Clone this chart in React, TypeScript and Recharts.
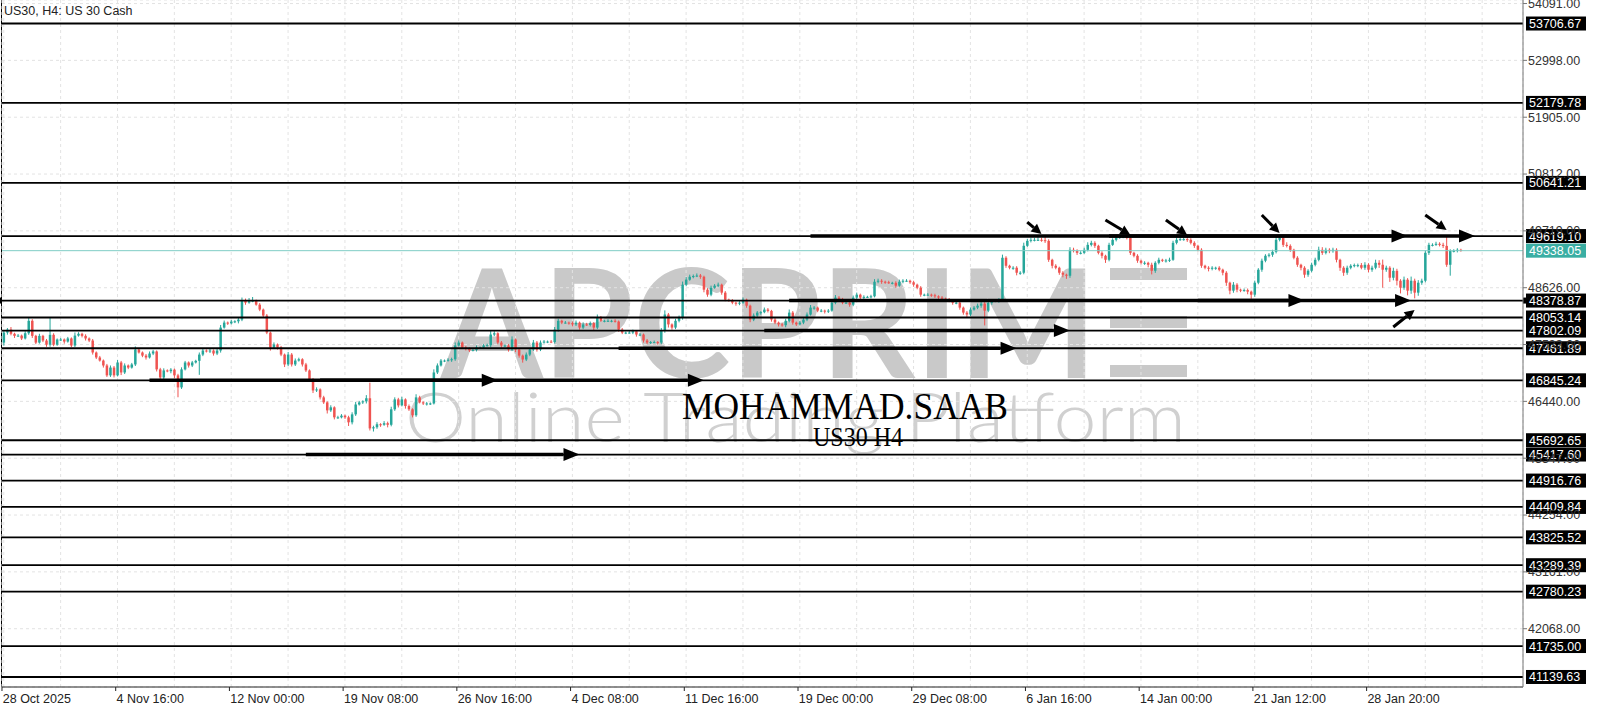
import React from 'react';
import { ComposedChart, Bar, XAxis, YAxis, CartesianGrid, ReferenceLine } from 'recharts';

// ---- data ----
const firstOpen = 47571;
const closes = [
  47763,47820,47740,47700,47705,47650,47750,47990,47700,47570,
  47700,47610,47530,47720,47530,47630,47630,47590,47650,47514,
  47705,47740,47700,47650,47610,47380,47284,47225,47130,46940,
  47090,46940,47188,46996,47130,47090,47150,47437,47380,47320,
  47284,47360,47400,47055,46900,47035,47020,47050,46940,46709,
  47055,47188,47130,47188,47220,47340,47418,47400,47418,47360,
  47418,47859,47955,47940,47975,47980,48013,48377,48338,48377,
  48377,48300,48205,48090,47763,47476,47534,47476,47340,47150,
  47340,47150,47225,47250,47150,47035,46860,46650,46670,46517,
  46421,46267,46325,46133,46133,46165,46133,46037,46190,46380,
  46420,46440,46500,45920,45942,46000,45990,46020,45990,46287,
  46478,46363,46478,46350,46287,46172,46517,46421,46400,46400,
  46400,46996,47130,47225,47225,47240,47250,47514,47571,47476,
  47460,47420,47430,47476,47476,47514,47520,47725,47750,47571,
  47514,47514,47437,47630,47437,47320,47245,47340,47437,47571,
  47437,47571,47590,47590,47580,47820,47990,47955,47955,47945,
  47920,47955,47859,47920,47910,47945,47859,48051,47990,47990,
  47990,47990,47975,47820,47763,47763,47763,47790,47725,47725,
  47610,47571,47580,47580,47571,47800,48110,47920,47859,47990,
  48051,48684,48780,48837,48850,48860,48837,48588,48492,48626,
  48665,48684,48531,48396,48377,48338,48320,48338,48396,48280,
  48013,48090,48147,48155,48205,48180,48013,47955,47920,47905,
  47990,48147,47955,47920,47955,48013,48110,48243,48243,48185,
  48185,48170,48185,48338,48435,48410,48338,48338,48300,48435,
  48492,48435,48450,48450,48460,48741,48760,48741,48730,48720,
  48720,48665,48741,48760,48760,48730,48684,48626,48492,48492,
  48492,48480,48460,48435,48415,48396,48377,48338,48338,48243,
  48147,48110,48205,48243,48280,48320,48185,48338,48377,48377,
  48396,49202,49048,49010,49010,48914,48914,49432,49527,49547,
  49547,49547,49540,49527,49163,49048,49010,48914,48876,48856,
  49355,49335,49297,49297,49355,49450,49489,49432,49297,49240,
  49163,49450,49547,49585,49600,49600,49585,49297,49240,49145,
  49105,49105,49067,48952,49105,49163,49150,49150,49163,49489,
  49547,49560,49560,49547,49489,49432,49355,49048,49010,48990,
  49010,49010,48972,48914,48722,48569,48684,48588,48580,48580,
  48550,48492,48722,48972,49145,49240,49260,49316,49547,49585,
  49450,49430,49355,49202,49067,49010,48876,48952,49067,49163,
  49355,49297,49355,49330,49355,49163,49010,48914,49010,49048,
  49060,49060,49010,49067,48972,49010,49105,49067,48972,49010,
  48818,48950,48760,48626,48780,48569,48760,48531,48722,48760,
  49297,49450,49450,49470,49450,49430,49067,49335,49335,49355,
  49338,
];
const wickHi = [
  40,30,50,20,30,20,40,60,30,20,
  40,20,30,330,30,20,30,20,30,20,
  60,30,20,30,20,30,20,30,20,30,
  40,30,50,30,40,20,30,60,30,20,
  30,40,30,20,30,40,20,30,20,30,
  40,30,20,30,20,40,30,20,30,20,
  30,50,40,20,30,20,30,60,40,50,
  70,20,30,20,30,20,40,20,30,20,
  50,30,40,30,20,30,20,30,40,20,
  30,20,40,20,30,30,20,30,40,50,
  30,20,60,300,30,40,20,40,30,50,
  40,30,50,20,30,20,60,30,20,30,
  20,60,40,30,20,30,30,60,40,20,
  30,20,30,40,20,30,30,70,40,20,
  30,20,30,60,20,30,20,40,30,50,
  30,40,30,20,30,50,40,20,30,20,
  30,40,20,40,30,30,20,60,30,20,
  30,20,30,20,30,20,40,30,20,30,
  20,30,20,30,20,50,80,30,20,40,
  40,60,50,40,30,40,30,20,30,40,
  30,40,20,30,20,30,20,30,40,20,
  20,40,30,20,40,30,20,30,20,30,
  40,60,30,20,30,40,40,50,30,20,
  30,20,30,40,50,30,20,30,20,40,
  40,20,30,20,30,50,40,30,20,30,
  20,30,40,30,30,20,30,20,30,20,
  30,20,30,20,30,20,30,20,30,20,
  20,30,40,30,40,50,30,40,30,30,
  30,60,30,20,30,30,30,60,40,40,
  40,50,40,75,30,20,30,20,30,20,
  50,40,30,30,40,50,40,30,20,30,
  20,40,30,30,20,20,15,30,20,30,
  20,30,20,40,30,40,20,30,40,40,
  40,40,40,50,30,30,20,30,20,30,
  30,20,30,20,30,20,50,30,20,30,
  30,20,40,30,40,30,30,40,60,30,
  40,50,30,20,30,20,30,30,40,40,
  60,50,40,30,40,30,20,30,40,30,
  30,30,40,50,30,40,60,50,100,40,
  30,60,40,30,60,30,80,40,50,40,
  50,40,30,40,30,40,190,30,30,30,
  20,
];
const wickLo = [
  60,40,30,40,20,30,20,30,40,30,
  20,30,40,40,30,20,30,40,20,30,
  30,20,30,40,30,40,30,20,40,30,
  30,40,20,50,30,30,20,30,20,30,
  40,20,30,40,60,30,20,40,50,190,
  30,20,40,30,20,270,30,20,30,40,
  30,40,20,30,20,30,40,30,40,20,
  30,20,30,40,30,60,30,40,30,50,
  30,40,30,20,40,30,40,50,30,40,
  30,60,30,40,30,20,30,70,40,30,
  20,30,40,40,60,30,40,20,50,30,
  30,40,20,50,30,40,30,20,30,40,
  30,20,30,20,30,20,40,30,20,30,
  40,30,20,30,20,30,20,40,30,30,
  40,30,40,30,50,40,60,30,30,30,
  40,30,20,30,20,30,40,30,20,30,
  40,30,40,30,20,30,50,30,20,30,
  20,30,20,40,30,30,20,30,40,30,
  40,30,30,20,40,30,40,60,40,30,
  30,40,30,20,30,20,40,50,40,30,
  20,30,40,30,20,30,40,30,20,40,
  50,30,30,40,20,30,40,30,40,30,
  40,30,40,30,20,30,30,20,40,30,
  30,40,30,20,30,40,30,20,40,30,
  30,40,30,20,30,20,30,40,30,20,
  30,40,20,30,20,30,40,30,40,30,
  20,30,30,40,20,30,30,40,30,40,
  40,60,30,20,30,40,285,30,40,30,
  40,30,40,30,40,50,40,30,20,30,
  30,20,30,40,40,50,30,40,50,60,
  40,30,40,30,20,30,30,40,30,50,
  60,30,20,30,20,20,30,40,30,40,
  30,40,50,70,40,30,30,40,30,20,
  30,20,30,40,30,40,30,40,30,50,
  30,40,30,50,60,70,40,50,40,30,
  50,80,40,30,40,30,30,40,30,30,
  40,30,40,30,40,50,60,40,30,30,
  30,40,30,40,30,50,60,60,40,30,
  30,40,30,40,50,40,30,60,346,40,
  80,50,90,110,40,90,60,110,60,40,
  30,40,30,20,30,40,40,210,30,30,
  20,
];
const SLOTS = 428;
const BARS_PER_LABEL = 32;
const dateLabels = [
  '28 Oct 2025', '4 Nov 16:00', '12 Nov 00:00', '19 Nov 08:00', '26 Nov 16:00',
  '4 Dec 08:00', '11 Dec 16:00', '19 Dec 00:00', '29 Dec 08:00', '6 Jan 16:00',
  '14 Jan 00:00', '21 Jan 12:00', '28 Jan 20:00',
];
const priceTicks = [54091, 52998, 51905, 50812, 49719, 48626, 47533, 46440, 45347, 44254, 43161, 42068];
const levels = [
  53706.67, 52179.78, 50641.21, 49619.10, 48053.14, 47802.09, 47461.89, 46845.24,
  45692.65, 45417.60, 44916.76, 44409.84, 43825.52, 43289.39, 42780.23, 41735.00, 41139.63,
];
const markedLevel = 48378.87;
const lastPrice = 49338.05;
// [price, fromBar, toBar]
const hArrows: [number, number, number][] = [
  [46845.24, 41, 139], [46845.24, 89, 197], [45417.60, 85, 162], [47461.89, 173, 285],
  [47802.09, 214, 300], [48378.87, 221, 366], [48378.87, 336, 396],
  [49619.10, 227, 395], [49619.10, 311, 414],
];
// [fromBar, fromPrice, toBar, toPrice]
const dArrows: [number, number, number, number][] = [
  [288, 49889, 292, 49659], [310, 49928, 317, 49640], [327, 49928, 333, 49640],
  [354, 50024, 359, 49678], [400, 50024, 406, 49735], [391, 47870, 397, 48197],
];
const yDomain: [number, number] = [40947, 54159];

const data = Array.from({ length: SLOTS }, (_, i) => {
  if (i >= closes.length) return { i, range: null as any };
  const open = i === 0 ? firstOpen : closes[i - 1];
  const close = closes[i];
  const high = Math.max(open, close) + wickHi[i];
  const low = Math.min(open, close) - wickLo[i];
  return { i, open, close, high, low, range: [low, high] };
});
const gridTicks = Array.from({ length: Math.floor(SLOTS / 16) + 1 }, (_, k) => k * 16).filter((v) => v < SLOTS);

const FONT = '"Liberation Sans", Arial, sans-serif';
const UP = '#26a69a';
const DOWN = '#ef5350';

const Candle = (props: any) => {
  const { x, y, width, height, payload } = props;
  if (!payload || payload.open == null || !isFinite(y) || !isFinite(height)) return <g />;
  const { open, close, high, low } = payload;
  const span = high - low || 1;
  const py = (v: number) => y + ((high - v) / span) * height;
  const cx = x + width / 2;
  const color = close >= open ? UP : DOWN;
  const top = py(Math.max(open, close));
  const bot = py(Math.min(open, close));
  const bw = 2.5;
  return (
    <g>
      <line x1={cx} x2={cx} y1={y} y2={y + height} stroke={color} strokeWidth={1} />
      <rect x={cx - bw / 2} y={top} width={bw} height={Math.max(1, bot - top)} fill={color} />
    </g>
  );
};

const priceTag = (text: string, bg: string) => (lp: any) => {
  const vb = lp.viewBox || {};
  const x = (vb.x || 0) + (vb.width || 0) + 3;
  const y = vb.y || 0;
  return (
    <g>
      <rect x={x} y={y - 7} width={60} height={14} fill={bg} />
      <text x={x + 3} y={y + 4.5} fill="#fff" fontSize={12.5} fontFamily={FONT}>{text}</text>
    </g>
  );
};

const arrowShape = (w: number, head: number, hw: number) => (p: any) => {
  const x1 = Number(p.x1), y1 = Number(p.y1), x2 = Number(p.x2), y2 = Number(p.y2);
  const dx = x2 - x1, dy = y2 - y1;
  const L = Math.hypot(dx, dy) || 1;
  const ux = dx / L, uy = dy / L;
  const bx = x2 - ux * head, by = y2 - uy * head;
  const nx = -uy, ny = ux;
  return (
    <g>
      <line x1={x1} y1={y1} x2={bx} y2={by} stroke="#000" strokeWidth={w} />
      <polygon points={`${x2},${y2} ${bx + nx * hw},${by + ny * hw} ${bx - nx * hw},${by - ny * hw}`} fill="#000" />
    </g>
  );
};

const markedShape = (p: any) => {
  const x1 = Number(p.x1), y1 = Number(p.y1), x2 = Number(p.x2), y2 = Number(p.y2);
  return (
    <g>
      <line x1={x1} y1={y1} x2={x2} y2={y2} stroke="#000" strokeWidth={1.8} />
      <rect x={x1} y={y1 - 3} width={6} height={6} fill="#000" />
      <rect x={x2 - 6} y={y2 - 3} width={6} height={6} fill="#000" />
    </g>
  );
};

const DateTick = (p: any) => {
  const { x, y, payload } = p;
  const v = Number(payload && payload.value);
  if (v % BARS_PER_LABEL !== 0) return <g />;
  const k = v / BARS_PER_LABEL;
  if (k >= dateLabels.length) return <g />;
  return (
    <g>
      <line x1={x - 1.8} x2={x - 1.8} y1={y} y2={y + 4} stroke="#222" strokeWidth={1} />
      <text x={x - 1} y={y + 16} fontSize={12.5} fill="#222" fontFamily={FONT}>{dateLabels[k]}</text>
    </g>
  );
};

export default function App() {
  return (
    <div style={{ position: 'relative', width: 1600, height: 711, background: '#fff', overflow: 'hidden' }}>
      <style>{'body{margin:0;}'}</style>
      <svg width={1600} height={711} style={{ position: 'absolute', left: 0, top: 0 }}>
        <text x={441} y={378} fontSize={152} fontWeight={700} fontFamily="Lato, 'Open Sans', sans-serif" fill="#c9c9c9" textLength={656} lengthAdjust="spacingAndGlyphs">APCPRIM</text>
        <rect x={1110} y={268} width={77} height={12} fill="#c9c9c9" />
        <rect x={1110} y={316} width={77} height={12} fill="#c9c9c9" />
        <rect x={1110} y={365} width={77} height={12} fill="#c9c9c9" />
        <text x={405} y={442} fontSize={68} fontWeight={300} fontFamily="Lato, 'Open Sans', sans-serif" fill="#d0d0d0" textLength={781} lengthAdjust="spacingAndGlyphs">Online Trading Platform</text>
      </svg>
      <div style={{ position: 'absolute', left: 1, top: 0, width: 1, height: 687, background: '#000' }} />
      <div style={{ position: 'absolute', left: 0, top: 0 }}>
        <ComposedChart width={1600} height={711} data={data} margin={{ top: 0, right: 0, bottom: 0, left: 2 }} barCategoryGap="10%">
          <CartesianGrid yAxisId="p" stroke="#e3e3e3" strokeDasharray="3 3" />
          <XAxis dataKey="i" type="category" ticks={gridTicks} interval={0} tick={<DateTick />} tickLine={false} tickSize={0} tickMargin={0} height={24} axisLine={{ stroke: '#222' }} />
          <YAxis yAxisId="p" orientation="right" width={77} domain={yDomain} allowDataOverflow ticks={priceTicks} interval={0}
            tickFormatter={(v: number) => v.toFixed(2)} tickSize={4} tickMargin={1}
            tick={{ fill: '#333', fontSize: 12.5, fontFamily: FONT }} axisLine={{ stroke: '#777' }} tickLine={{ stroke: '#777' }} />
          <Bar yAxisId="p" dataKey="range" isAnimationActive={false} shape={Candle} />
          <ReferenceLine yAxisId="p" y={lastPrice} stroke="#7fcdc6" strokeWidth={1} label={priceTag(lastPrice.toFixed(2), '#3aaea3')} />
          {levels.map((v) => (
            <ReferenceLine key={'l' + v} yAxisId="p" y={v} stroke="#000" strokeWidth={1.8} label={priceTag(v.toFixed(2), '#000')} />
          ))}
          <ReferenceLine yAxisId="p" y={markedLevel} shape={markedShape} label={priceTag(markedLevel.toFixed(2), '#000')} />
          {hArrows.map(([p, a, b], k) => (
            <ReferenceLine key={'h' + k} yAxisId="p" segment={[{ x: a, y: p }, { x: b, y: p }]} shape={arrowShape(3.6, 16, 6.5)} />
          ))}
          {dArrows.map(([a, p1, b, p2], k) => (
            <ReferenceLine key={'d' + k} yAxisId="p" segment={[{ x: a, y: p1 }, { x: b, y: p2 }]} shape={arrowShape(3, 10, 5)} />
          ))}
        </ComposedChart>
      </div>
      <svg width={1600} height={711} style={{ position: 'absolute', left: 0, top: 0, pointerEvents: 'none' }}>
        <text x={4} y={15} fontSize={12.5} fill="#222" fontFamily={FONT}>US30, H4:  US 30 Cash</text>
        <text x={682} y={419} fontSize={37} fontFamily='"Liberation Serif", "Times New Roman", serif' fill="#000" textLength={326} lengthAdjust="spacingAndGlyphs">MOHAMMAD.SAAB</text>
        <text x={813} y={446} fontSize={28} fontFamily='"Liberation Serif", "Times New Roman", serif' fill="#000" textLength={90} lengthAdjust="spacingAndGlyphs">US30 H4</text>
      </svg>
    </div>
  );
}
